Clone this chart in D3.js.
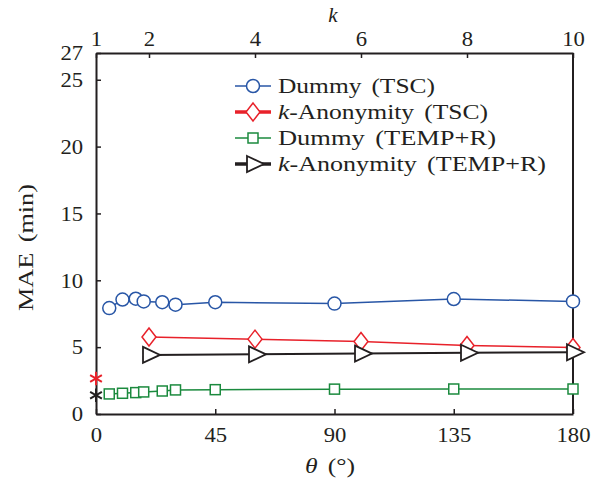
<!DOCTYPE html>
<html>
<head>
<meta charset="utf-8">
<script src="https://cdn.jsdelivr.net/npm/d3@7"></script>
<style>
  body { margin: 0; background: #fff; }
  text { font-family: "Liberation Serif", serif; fill: #231f20; }
</style>
</head>
<body>
<div id="chart"></div>
<script>

// theta values (degrees) for the Dummy series
var thetaValues = [5, 10, 15, 18, 25, 30, 45, 90, 135, 180];
var dummyTSC = [7.92, 8.56, 8.62, 8.42, 8.36, 8.18, 8.36, 8.26, 8.6, 8.42];
var dummyTEMP = [1.5, 1.55, 1.6, 1.65, 1.72, 1.8, 1.82, 1.86, 1.87, 1.87];

// k values for the k-Anonymity series
var kValues = [2, 4, 6, 8, 10];
var kAnonTSC = [5.76, 5.6, 5.42, 5.12, 4.98];
var kAnonTEMP = [4.42, 4.46, 4.52, 4.58, 4.62];

// reference points at theta = 0
var starRed = 2.65;
var starBlack = 1.4;

var yTicks = [0, 5, 10, 15, 20, 25, 27];
var xTicks = [0, 45, 90, 135, 180];
var kTicks = [1, 2, 4, 6, 8, 10];

var colors = {
    blue: "#2856a6",
    red: "#e8212a",
    green: "#1b8a3e",
    black: "#231f20"
};

var W = 598, H = 482;
var margin = {top: 53, right: 25, bottom: 68, left: 96};
var w = W - margin.left - margin.right;
var h = H - margin.top - margin.bottom;

var svg = d3.select("#chart").append("svg")
    .attr("width", W).attr("height", H);
var g = svg.append("g")
    .attr("transform", "translate(" + margin.left + "," + margin.top + ")");

var x = d3.scaleLinear().domain([0, 180]).range([0, w]);
var xk = d3.scaleLinear().domain([1, 10]).range([0, w]);
var y = d3.scaleLinear().domain([0, 27]).range([h, 0]);

// axes (ticks point inward)
var fs = "21px";
var left = g.append("g").call(d3.axisLeft(y).tickValues(yTicks).tickSizeInner(-5).tickSizeOuter(0).tickPadding(12));
var bottom = g.append("g").attr("transform", "translate(0," + h + ")")
    .call(d3.axisBottom(x).tickValues(xTicks).tickSizeInner(-5).tickSizeOuter(0).tickPadding(13));
var top_ = g.append("g")
    .call(d3.axisTop(xk).tickValues(kTicks).tickSizeInner(-5).tickSizeOuter(0).tickPadding(7));
g.append("line").attr("x1", w).attr("x2", w).attr("y1", 0).attr("y2", h)
    .attr("stroke", colors.black).attr("stroke-width", 2);

[left, bottom, top_].forEach(function(a) {
    a.select(".domain").attr("stroke", colors.black).attr("stroke-width", 2);
    a.selectAll(".tick line").attr("stroke", colors.black).attr("stroke-width", 1.5);
    a.selectAll(".tick text").style("font-size", fs).attr("fill", colors.black)
        .style("font-family", "Liberation Serif, serif")
        .attr("transform", "scale(1.08,1)");
});

// axis titles
svg.append("text").attr("transform", "translate(33,311) rotate(-90)")
    .style("font-size", fs).style("word-spacing", "3px")
    .attr("textLength", 127).attr("lengthAdjust", "spacingAndGlyphs").text("MAE (min)");
var xt = svg.append("text").attr("x", 305).attr("y", 473)
    .style("font-size", fs).style("word-spacing", "3px")
    .attr("textLength", 50).attr("lengthAdjust", "spacingAndGlyphs");
xt.append("tspan").style("font-style", "italic").text("θ");
xt.append("tspan").text(" (°)");
svg.append("text").attr("x", 333).attr("y", 22)
    .attr("text-anchor", "middle").style("font-size", fs).style("font-style", "italic").text("k");

// marker shapes
function circle(sel) {
    sel.append("circle").attr("r", 6.5).attr("fill", "#fff")
        .attr("stroke", colors.blue).attr("stroke-width", 1.5);
}
function square(sel) {
    sel.append("rect").attr("x", -5).attr("y", -5).attr("width", 10).attr("height", 10)
        .attr("fill", "#fff").attr("stroke", colors.green).attr("stroke-width", 1.5);
}
function diamond(sel) {
    sel.append("path").attr("d", "M0,-9L7,0L0,9L-7,0Z").attr("fill", "#fff")
        .attr("stroke", colors.red).attr("stroke-width", 1.5);
}
function triangle(sel) {
    sel.append("path").attr("d", "M-6,-8L11,0L-6,8Z").attr("fill", "#fff")
        .attr("stroke", colors.black).attr("stroke-width", 1.8);
}

function drawSeries(xs, ys, xscale, color, lw, marker) {
    var pts = xs.map(function(d, i) { return [xscale(d), y(ys[i])]; });
    g.append("path").datum(pts).attr("fill", "none").attr("stroke", color)
        .attr("stroke-width", lw).attr("d", d3.line());
    g.selectAll(null).data(pts).enter().append("g")
        .attr("transform", function(d) { return "translate(" + d[0] + "," + d[1] + ")"; })
        .call(marker);
}

drawSeries(thetaValues, dummyTSC, x, colors.blue, 1.5, circle);
drawSeries(kValues, kAnonTSC, xk, colors.red, 1.5, diamond);
drawSeries(thetaValues, dummyTEMP, x, colors.green, 1.5, square);
drawSeries(kValues, kAnonTEMP, xk, colors.black, 2, triangle);

// stars at theta = 0
function star(yv, color) {
    g.append("path").attr("transform", "translate(0," + y(yv) + ")")
        .attr("d", d3.symbol().type(d3.symbolAsterisk).size(130)())
        .attr("fill", "none").attr("stroke", color).attr("stroke-width", 2);
}
star(starRed, colors.red);
star(starBlack, colors.black);

// legend (text widths follow the reference)
var legend = [
    {pre: "", name: "Dummy (TSC)", len: 157, color: colors.blue, lw: 1.5, marker: circle},
    {pre: "k", name: "-Anonymity (TSC)", len: 210, color: colors.red, lw: 3.5, marker: diamond},
    {pre: "", name: "Dummy (TEMP+R)", len: 218, color: colors.green, lw: 1.5, marker: square},
    {pre: "k", name: "-Anonymity (TEMP+R)", len: 268, color: colors.black, lw: 3.5, marker: triangle}
];
var lg = svg.append("g");
legend.forEach(function(d, i) {
    var yy = 86 + i * 26;
    lg.append("line").attr("x1", 235).attr("x2", 271).attr("y1", yy).attr("y2", yy)
        .attr("stroke", d.color).attr("stroke-width", d.lw);
    lg.append("g").attr("transform", "translate(253," + yy + ")").call(d.marker);
    var t = lg.append("text").attr("x", 278).attr("y", yy + 7).style("font-size", fs)
        .style("word-spacing", "3px")
        .attr("textLength", d.len).attr("lengthAdjust", "spacingAndGlyphs");
    if (d.pre) t.append("tspan").style("font-style", "italic").text(d.pre);
    t.append("tspan").text(d.name);
});

</script>
</body>
</html>
